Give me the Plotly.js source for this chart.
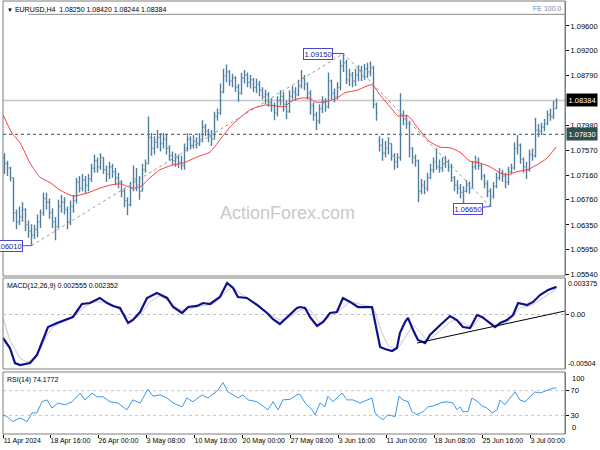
<!DOCTYPE html>
<html>
<head>
<meta charset="utf-8">
<script src="https://cdn.plot.ly/plotly-3.0.1.min.js"></script>
<style>html,body{margin:0;padding:0;background:#fff;}#chart{width:600px;height:450px;}</style>
</head>
<body>
<div id="chart"></div>
<script>
// ---------- EURUSD H4 price bars (each bar index = one drawn bar) ----------
const barOpen = [
1.0745,1.0735,1.0728,1.0712,1.0655,1.0640,1.0648,1.0660,1.0635,1.0625,
1.0618,1.0628,1.0640,1.0655,1.0678,1.0672,1.0655,1.0640,1.0632,1.0665,
1.0672,1.0660,1.0640,1.0665,1.0675,1.0705,1.0695,1.0708,1.0700,1.0710,
1.0728,1.0740,1.0730,1.0745,1.0725,1.0718,1.0730,1.0722,1.0712,1.0705,
1.0690,1.0675,1.0668,1.0695,1.0710,1.0700,1.0690,1.0725,1.0735,1.0778,
1.0760,1.0770,1.0778,1.0768,1.0775,1.0760,1.0748,1.0740,1.0745,1.0738,
1.0732,1.0760,1.0775,1.0765,1.0772,1.0768,1.0775,1.0795,1.0788,1.0780,
1.0775,1.0812,1.0818,1.0852,1.0878,1.0885,1.0870,1.0875,1.0860,1.0850,
1.0875,1.0880,1.0868,1.0872,1.0860,1.0865,1.0855,1.0845,1.0848,1.0835,
1.0830,1.0818,1.0838,1.0845,1.0832,1.0820,1.0845,1.0852,1.0848,1.0862,
1.0875,1.0865,1.0850,1.0830,1.0815,1.0805,1.0825,1.0835,1.0828,1.0870,
1.0850,1.0845,1.0860,1.0895,1.0900,1.0872,1.0880,1.0870,1.0880,1.0888,
1.0878,1.0890,1.0885,1.0892,1.0832,1.0772,1.0765,1.0752,1.0760,1.0768,
1.0748,1.0738,1.0745,1.0815,1.0808,1.0800,1.0760,1.0745,1.0740,1.0690,
1.0700,1.0695,1.0712,1.0725,1.0738,1.0730,1.0728,1.0735,1.0738,1.0730,
1.0712,1.0700,1.0695,1.0688,1.0690,1.0700,1.0695,1.0730,1.0738,1.0732,
1.0715,1.0702,1.0690,1.0682,1.0698,1.0712,1.0720,1.0715,1.0705,1.0722,
1.0728,1.0760,1.0765,1.0742,1.0730,1.0725,1.0750,1.0748,1.0790,1.0788,
1.0795,1.0800,1.0815,1.0812,1.08250];
const barHigh = [
1.0752,1.0740,1.0730,1.0712,1.0660,1.0665,1.0672,1.0662,1.0642,1.0636,
1.0635,1.0652,1.0660,1.0688,1.0688,1.0678,1.0662,1.0648,1.0676,1.0684,
1.0680,1.0665,1.0675,1.0684,1.0712,1.0715,1.0718,1.0715,1.0718,1.0735,
1.0750,1.0745,1.0752,1.0745,1.0732,1.0738,1.0735,1.0728,1.0720,1.0708,
1.0695,1.0680,1.0705,1.0732,1.0728,1.0715,1.0735,1.0742,1.0812,1.0785,
1.0780,1.0790,1.0785,1.0785,1.0782,1.0765,1.0755,1.0752,1.0750,1.0748,
1.0768,1.0785,1.0780,1.0782,1.0778,1.0785,1.0806,1.0800,1.0792,1.0790,
1.0820,1.0825,1.0866,1.0890,1.0897,1.0888,1.0882,1.0878,1.0865,1.0883,
1.0888,1.0884,1.0880,1.0875,1.0874,1.0870,1.0860,1.0856,1.0852,1.0842,
1.0835,1.0845,1.0855,1.0852,1.0838,1.0855,1.0862,1.0860,1.0872,1.0888,
1.0880,1.0868,1.0855,1.0835,1.0820,1.0832,1.0845,1.0842,1.0884,1.0872,
1.0858,1.0868,1.0905,1.0915,1.0905,1.0890,1.0885,1.0890,1.0896,1.0895,
1.0898,1.0900,1.0902,1.0895,1.0835,1.0780,1.0776,1.0772,1.0778,1.0768,
1.0752,1.0752,1.0850,1.0822,1.0815,1.0805,1.0762,1.0750,1.0742,1.0710,
1.0708,1.0720,1.0735,1.0745,1.0760,1.0742,1.0745,1.0748,1.0742,1.0735,
1.0715,1.0708,1.0702,1.0698,1.0708,1.0706,1.0740,1.0748,1.0745,1.0735,
1.0718,1.0708,1.0695,1.0705,1.0720,1.0728,1.0725,1.0720,1.0730,1.0735,
1.0770,1.0782,1.0768,1.0745,1.0738,1.0758,1.0760,1.0810,1.0800,1.0802,
1.0808,1.0822,1.0825,1.0838,1.08420];
const barLow = [
1.0718,1.0715,1.0706,1.0640,1.0628,1.0635,1.0640,1.0625,1.0614,1.0601,
1.0612,1.0615,1.0630,1.0650,1.0660,1.0645,1.0630,1.0610,1.0630,1.0655,
1.0652,1.0628,1.0635,1.0655,1.0670,1.0688,1.0690,1.0686,1.0690,1.0705,
1.0720,1.0720,1.0725,1.0718,1.0705,1.0710,1.0712,1.0700,1.0695,1.0680,
1.0664,1.0651,1.0665,1.0690,1.0690,1.0676,1.0690,1.0720,1.0735,1.0748,
1.0750,1.0760,1.0755,1.0760,1.0750,1.0740,1.0733,1.0730,1.0728,1.0725,
1.0725,1.0755,1.0758,1.0760,1.0760,1.0764,1.0770,1.0780,1.0770,1.0764,
1.0775,1.0805,1.0815,1.0850,1.0868,1.0862,1.0860,1.0852,1.0836,1.0848,
1.0866,1.0860,1.0858,1.0852,1.0850,1.0845,1.0840,1.0832,1.0828,1.0820,
1.0806,1.0812,1.0830,1.0820,1.0808,1.0818,1.0840,1.0838,1.0845,1.0858,
1.0855,1.0840,1.0815,1.0805,1.0790,1.0800,1.0818,1.0820,1.0825,1.0840,
1.0835,1.0840,1.0855,1.0885,1.0865,1.0862,1.0860,1.0862,1.0870,1.0870,
1.0872,1.0875,1.0878,1.0825,1.0805,1.0755,1.0740,1.0745,1.0750,1.0740,
1.0725,1.0728,1.0740,1.0798,1.0792,1.0745,1.0735,1.0730,1.0672,1.0685,
1.0685,1.0690,1.0710,1.0720,1.0725,1.0720,1.0722,1.0728,1.0722,1.0705,
1.0690,1.0685,1.0678,1.0667,1.0688,1.0686,1.0695,1.0725,1.0725,1.0708,
1.0695,1.0680,1.0665,1.0678,1.0695,1.0708,1.0705,1.0695,1.0700,1.0718,
1.0725,1.0750,1.0735,1.0720,1.0710,1.0722,1.0740,1.0745,1.0778,1.0782,
1.0788,1.0798,1.0805,1.0808,1.08244];
const barClose = [
1.0735,1.0728,1.0712,1.0655,1.0640,1.0648,1.0660,1.0635,1.0625,1.0618,
1.0628,1.0640,1.0655,1.0678,1.0672,1.0655,1.0640,1.0632,1.0665,1.0672,
1.0660,1.0640,1.0665,1.0675,1.0705,1.0695,1.0708,1.0700,1.0710,1.0728,
1.0740,1.0730,1.0745,1.0725,1.0718,1.0730,1.0722,1.0712,1.0705,1.0690,
1.0675,1.0668,1.0695,1.0710,1.0700,1.0690,1.0725,1.0735,1.0778,1.0760,
1.0770,1.0778,1.0768,1.0775,1.0760,1.0748,1.0740,1.0745,1.0738,1.0732,
1.0760,1.0775,1.0765,1.0772,1.0768,1.0775,1.0795,1.0788,1.0780,1.0775,
1.0812,1.0818,1.0852,1.0878,1.0885,1.0870,1.0875,1.0860,1.0850,1.0875,
1.0880,1.0868,1.0872,1.0860,1.0865,1.0855,1.0845,1.0848,1.0835,1.0830,
1.0818,1.0838,1.0845,1.0832,1.0820,1.0845,1.0852,1.0848,1.0862,1.0875,
1.0865,1.0850,1.0830,1.0815,1.0805,1.0825,1.0835,1.0828,1.0870,1.0850,
1.0845,1.0860,1.0895,1.0900,1.0872,1.0880,1.0870,1.0880,1.0888,1.0878,
1.0890,1.0885,1.0892,1.0832,1.0818,1.0765,1.0752,1.0760,1.0768,1.0748,
1.0738,1.0745,1.0815,1.0808,1.0800,1.0760,1.0745,1.0740,1.0690,1.0700,
1.0695,1.0712,1.0725,1.0738,1.0730,1.0728,1.0735,1.0738,1.0730,1.0712,
1.0700,1.0695,1.0688,1.0690,1.0700,1.0695,1.0730,1.0738,1.0732,1.0715,
1.0702,1.0690,1.0682,1.0698,1.0712,1.0720,1.0715,1.0705,1.0722,1.0728,
1.0760,1.0765,1.0742,1.0730,1.0725,1.0750,1.0748,1.0790,1.0788,1.0795,
1.0800,1.0815,1.0812,1.0825,1.08384];

// ---------- moving average (red) ----------
const maBar = [-0.5,2.5,5.2,8.5,11.8,15.2,18.5,22.8,27.5,31.8,35.2,38.5,42.8,45.2,48.5,51.8,56.2,59.5,64.2,68.5,71.8,75.2,78.5,81.8,85.2,87.5,90.8,93.5,95.2,98.5,101.8,103.5,106.8,110.8,113.5,117.5,122.5,125.2,128.5,131.2,134.5,137.5,140.2,141.8,145.2,148.5,151.8,155.2,158.5,161.8,165.2,167.8,170.8,174.2,177.5,180.8,183.8];
const maValue = [1.0815,1.0785,1.0769,1.0736,1.0713,1.0704,1.0692,1.0682,1.0687,1.0695,1.0700,1.0702,1.0695,1.0697,1.0712,1.0725,1.0733,1.0736,1.0746,1.0754,1.0774,1.0795,1.0810,1.0823,1.0829,1.0831,1.0829,1.0828,1.0836,1.0842,1.0842,1.0836,1.0836,1.0842,1.0851,1.0855,1.0864,1.0847,1.0828,1.0813,1.0813,1.0795,1.0779,1.0771,1.0762,1.0761,1.0754,1.0739,1.0736,1.0730,1.0720,1.0717,1.0722,1.0725,1.0733,1.0744,1.0762];

// ---------- Fibonacci expansion points and levels ----------
const fiboBar = [9, 113, 162];
const fiboPrice = [1.0601, 1.0915, 1.0665];
const fiboLabels = ['1.06010', '1.09150', '1.06650'];
const feLevel = 1.0979;
const bidPrice = 1.08384;
const levelPrice = 1.0783;

// ---------- price axis ----------
const priceTicks = [1.0960, 1.0920, 1.0879, 1.0798, 1.0757, 1.0716, 1.0676, 1.0635, 1.0595, 1.0554];

// ---------- MACD(12,26,9) ----------
const macdBar = [-0.5,1.8,3.5,5.2,8.5,10.8,12.8,14.5,17.5,20.2,22.8,25.8,28.5,31.8,34.2,36.2,38.5,41.2,42.8,45.2,47.5,50.8,54.2,56.2,59.2,61.2,64.2,66.2,68.5,71.8,74.2,76.2,77.8,80.8,84.2,87.5,89.5,91.8,94.2,97.5,98.5,100.2,101.8,104.2,106.2,108.5,110.8,112.8,115.2,117.8,122.5,123.5,125.2,126.8,129.2,130.8,131.8,133.5,134.5,136.2,137.8,140.2,141.8,144.2,146.2,148.5,150.8,152.8,155.2,157.5,159.2,161.2,163.5,165.2,167.5,169.5,171.2,174.2,176.2,178.5,181.2,184];
const macdValue = [-0.00217,-0.00310,-0.00449,-0.00467,-0.00449,-0.00375,-0.00236,-0.00116,-0.00079,-0.00051,-0.00023,0.00097,0.00106,0.00153,0.00106,0.00079,0.00060,-0.00079,-0.00051,0.00023,0.00153,0.00199,0.00153,0.00069,0.00014,0.00069,0.00079,0.00106,0.00097,0.00162,0.00291,0.00245,0.00162,0.00153,0.00088,0.00014,-0.00042,-0.00088,-0.00023,0.00060,0.00069,0.00060,-0.00023,-0.00106,-0.00069,0.00014,0.00023,0.00153,0.00116,0.00069,0.00069,-0.00079,-0.00301,-0.00319,-0.00338,-0.00310,-0.00171,-0.00069,-0.00032,-0.00143,-0.00236,-0.00264,-0.00190,-0.00125,-0.00069,-0.00014,-0.00051,-0.00116,-0.00125,-0.00005,-0.00023,-0.00069,-0.00116,-0.00079,-0.00051,-0.00005,0.00106,0.00088,0.00116,0.00180,0.00227,0.002555];
const signalBar = [-0.5,1.8,5.2,7.5,9.5,11.8,14.2,16.2,19.5,22.8,26.2,29.5,32.8,36.2,39.5,42.5,45.2,48.5,51.8,55.2,58.5,61.8,65.2,69.5,72.8,75.8,78.5,82.8,87.5,91.8,95.2,98.5,101.8,105.2,108.5,111.8,115.2,120.8,122.8,125.2,127.8,130.8,133.5,136.2,138.5,140.8,142.8,146.2,149.5,152.8,155.8,158.5,161.8,164.5,168.5,171.8,175.2,178.5,184];
const signalValue = [-0.00032,-0.00236,-0.00402,-0.00439,-0.00421,-0.00328,-0.00190,-0.00116,-0.00069,-0.00023,0.00060,0.00116,0.00116,0.00088,0.00014,-0.00051,-0.00005,0.00116,0.00171,0.00116,0.00042,0.00051,0.00079,0.00097,0.00180,0.00254,0.00199,0.00116,0.00023,-0.00051,-0.00023,0.00042,0.00042,-0.00079,-0.00023,0.00042,0.00116,0.00079,0.00069,-0.00125,-0.00282,-0.00319,-0.00217,-0.00097,-0.00162,-0.00236,-0.00208,-0.00125,-0.00051,-0.00079,-0.00116,-0.00032,-0.00069,-0.00106,-0.00051,0.00060,0.00079,0.00134,0.002352];
const macdTrendBar = [137.5, 186.8];
const macdTrendValue = [-0.00264, 0.00032];
const macdMax = 0.003375, macdMin = -0.00504;

// ---------- RSI(14) ----------
const rsiBar = [-0.5,0.8,2.8,5.2,7.5,9.2,10.8,12.5,14.2,15.8,17.8,20.2,22.5,25.2,26.8,29.2,30.8,32.8,35.2,37.8,40.8,42.8,45.2,47.8,49.5,51.8,54.2,56.2,59.2,60.8,62.8,65.8,67.8,71.2,72.8,74.5,76.2,77.8,79.5,81.2,84.2,86.2,87.8,89.5,91.2,92.8,95.2,97.8,98.5,100.2,102.5,103.5,105.2,106.8,107.8,109.5,110.8,112.5,114.2,116.2,118.5,120.8,122.5,123.5,125.2,126.2,127.8,130.2,131.5,132.8,134.5,135.8,137.5,139.5,141.2,142.8,145.2,147.5,149.5,150.8,151.8,152.8,154.5,155.8,157.8,159.2,160.8,162.5,164.2,165.2,166.8,168.5,170.2,171.8,173.5,175.2,176.8,178.5,180.8,182.8,184];
const rsiValue = [31,28,20,26,20,34,34,52,55,42,50,47,52,66,55,66,60,60,52,50,39,55,50,72,61,63,58,50,44,58,52,63,58,71,83,68,63,58,63,55,52,44,39,52,39,55,56,64,64,50,39,31,50,44,61,52,58,66,55,55,50,55,58,34,26,23,31,28,61,55,52,36,31,36,44,45,50,52,50,39,44,36,36,58,52,45,42,34,39,55,47,58,68,55,52,60,68,66,70,74,74.1772];
const rsiLevels = [70, 30];

// ---------- time axis ----------
const timeTickBar = [-0.45, 15.2, 31.2, 47.2, 63.2, 79.2, 95.2, 111.2, 127.2, 143.2, 159.2, 175.2];
const timeTickText = ['11 Apr 2024','18 Apr 16:00','26 Apr 00:00','3 May 08:00','10 May 16:00','20 May 00:00','27 May 08:00','3 Jun 16:00','11 Jun 00:00','18 Jun 08:00','25 Jun 16:00','3 Jul 00:00'];

// ---------- drawing ----------
const FONT = 'Liberation Sans, Arial, sans-serif';
const BAR = '#4f7f9c';
const barIndex = barClose.map((_, i) => i);
const X_RANGE = [-0.5, 186.83];
const MAIN_DOM = [0.3649, 1], MACD_DOM = [0.1501, 0.3603], RSI_DOM = [0, 0.1432];

const traces = [
  {type:'ohlc', x:barIndex, open:barOpen, high:barHigh, low:barLow, close:barClose,
   xaxis:'x', yaxis:'y', tickwidth:0.35, hoverinfo:'skip',
   increasing:{line:{color:BAR, width:1.4}}, decreasing:{line:{color:BAR, width:1.4}}},
  {type:'scatter', mode:'lines', x:maBar, y:maValue, xaxis:'x', yaxis:'y',
   line:{color:'#ff3b3b', width:1, shape:'spline', smoothing:0.6}, hoverinfo:'skip'},
  {type:'scatter', mode:'lines', x:fiboBar, y:fiboPrice, xaxis:'x', yaxis:'y',
   line:{color:'#9a9a9a', width:1, dash:'3px,3px'}, hoverinfo:'skip'},
  {type:'scatter', mode:'lines', x:signalBar, y:signalValue, xaxis:'x', yaxis:'y2',
   line:{color:'#c4c4c4', width:1, shape:'spline', smoothing:0.3}, hoverinfo:'skip'},
  {type:'scatter', mode:'lines', x:macdBar, y:macdValue, xaxis:'x', yaxis:'y2',
   line:{color:'#10108c', width:2.2}, hoverinfo:'skip'},
  {type:'scatter', mode:'lines', x:macdTrendBar, y:macdTrendValue, xaxis:'x', yaxis:'y2',
   line:{color:'#000', width:1}, hoverinfo:'skip'},
  {type:'scatter', mode:'lines', x:rsiBar, y:rsiValue, xaxis:'x', yaxis:'y3',
   line:{color:'#3a96f0', width:1}, hoverinfo:'skip'}
];

const FRAME = '#7d7d7d';
const shapes = [];
[MAIN_DOM, MACD_DOM, RSI_DOM].forEach(d => shapes.push({type:'rect', xref:'paper', yref:'paper', x0:0, x1:1, y0:d[0], y1:d[1], line:{color:FRAME, width:1}, layer:'above'}));
shapes.push({type:'line', xref:'paper', yref:'y', x0:0, x1:1, y0:bidPrice, y1:bidPrice, line:{color:'#c8c8c8', width:1.5}, layer:'below'});
shapes.push({type:'line', xref:'paper', yref:'y', x0:0, x1:1, y0:levelPrice, y1:levelPrice, line:{color:'#2f4f4f', width:1, dash:'3px,3px'}, layer:'below'});
shapes.push({type:'line', xref:'x', yref:'y', x0:fiboBar[0] - 1, x1:X_RANGE[1], y0:feLevel, y1:feLevel, line:{color:'#8c8c8c', width:1}, layer:'below'});
shapes.push({type:'line', xref:'paper', yref:'y2', x0:0, x1:1, y0:0, y1:0, line:{color:'#c0c0c0', width:1, dash:'3px,3px'}, layer:'below'});
rsiLevels.forEach(v => shapes.push({type:'line', xref:'paper', yref:'y3', x0:0, x1:1, y0:v, y1:v, line:{color:'#c8c8c8', width:1, dash:'3px,3px'}, layer:'below'}));

const axFont = {family:FONT, size:7.5, color:'#000'};
const edgeFont = {family:FONT, size:7, color:'#000'};
const annotations = [
  {xref:'paper', yref:'paper', x:0, y:1, xanchor:'left', yanchor:'top', xshift:2, yshift:-3, showarrow:false,
   text:'<span style="font-size:6px">▼</span> EURUSD,H4  1.08250 1.08420 1.08244 1.08384', font:{family:FONT, size:7, color:'#000'}},
  {xref:'paper', yref:'y', x:1, y:feLevel, xanchor:'right', yanchor:'bottom', xshift:-1, yshift:0, showarrow:false,
   text:'FE 100.0', font:{family:FONT, size:7, color:'#6f8499'}},
  {xref:'paper', yref:'paper', x:0.507, y:0.5104, xanchor:'center', yanchor:'middle', showarrow:false,
   text:'ActionForex.com', font:{family:FONT, size:18, color:'#c9c9c9'}},
  {xref:'paper', yref:'paper', x:0, y:MACD_DOM[1], xanchor:'left', yanchor:'top', xshift:2, yshift:-2, showarrow:false,
   text:'MACD(12,26,9) 0.002555 0.002352', font:{family:FONT, size:7, color:'#000'}},
  {xref:'paper', yref:'paper', x:0, y:RSI_DOM[1], xanchor:'left', yanchor:'top', xshift:2, yshift:-2, showarrow:false,
   text:'RSI(14) 74.1772', font:{family:FONT, size:7, color:'#000'}},
  {xref:'paper', yref:'y', x:1, y:bidPrice, xanchor:'left', yanchor:'middle', xshift:1, showarrow:false,
   text:bidPrice.toFixed(5), font:{family:FONT, size:7.5, color:'#fff'}, bgcolor:'#000', borderpad:1.5},
  {xref:'paper', yref:'y', x:1, y:levelPrice, xanchor:'left', yanchor:'middle', xshift:1, showarrow:false,
   text:levelPrice.toFixed(5), font:{family:FONT, size:7.5, color:'#fff'}, bgcolor:'#2f4f4f', borderpad:1.5},
  {xref:'paper', yref:'y2', x:1, y:macdMax, xanchor:'left', yanchor:'top', xshift:1, showarrow:false, text:'0.003375', font:edgeFont},
  {xref:'paper', yref:'y2', x:1, y:macdMin, xanchor:'left', yanchor:'bottom', xshift:1, showarrow:false, text:'-0.00504', font:edgeFont},
  {xref:'paper', yref:'y3', x:1, y:100, xanchor:'left', yanchor:'top', xshift:5, showarrow:false, text:'100', font:axFont},
  {xref:'paper', yref:'y3', x:1, y:0, xanchor:'left', yanchor:'bottom', xshift:5, showarrow:false, text:'0', font:axFont}
];
const fiboOffsets = [[-24, 0], [-26, 0], [-23, 2]];
fiboBar.forEach((b, i) => annotations.push({
  xref:'x', yref:'y', x:b, y:fiboPrice[i], text:fiboLabels[i], showarrow:true, arrowhead:0, arrowwidth:1,
  arrowcolor:'#4a4ad0', ax:fiboOffsets[i][0], ay:fiboOffsets[i][1], standoff:0,
  font:{family:FONT, size:7.5, color:'#1c1c9a'}, bgcolor:'#fff', bordercolor:'#4a4ad0', borderwidth:1, borderpad:0.5
}));

const yBase = {side:'right', anchor:'x', showgrid:false, zeroline:false, ticks:'outside', ticklen:3, tickcolor:'#000',
  tickfont:axFont, showline:true, linecolor:FRAME, fixedrange:true};
const layout = {
  width:600, height:450, margin:{l:3, r:35, t:1, b:16},
  paper_bgcolor:'#fff', plot_bgcolor:'#fff', showlegend:false, hovermode:false,
  xaxis:{range:X_RANGE, anchor:'y3', showgrid:false, zeroline:false, showline:false,
    rangeslider:{visible:false}, tickvals:timeTickBar, ticktext:timeTickText, tickangle:0,
    ticks:'outside', ticklen:3, tickcolor:'#000', ticklabelposition:'outside right',
    tickfont:{family:FONT, size:7, color:'#000'}, fixedrange:true},
  yaxis:Object.assign({}, yBase, {domain:MAIN_DOM, range:[1.05515, 1.10008],
    tickvals:priceTicks, ticktext:priceTicks.map(v => v.toFixed(5))}),
  yaxis2:Object.assign({}, yBase, {domain:MACD_DOM, range:[macdMin, macdMax], tickvals:[0], ticktext:['0.00']}),
  yaxis3:Object.assign({}, yBase, {domain:RSI_DOM, range:[0, 100], tickvals:rsiLevels, ticktext:rsiLevels.map(String)}),
  shapes:shapes, annotations:annotations
};
Plotly.newPlot('chart', traces, layout, {displayModeBar:false, staticPlot:true});
</script>
</body>
</html>
